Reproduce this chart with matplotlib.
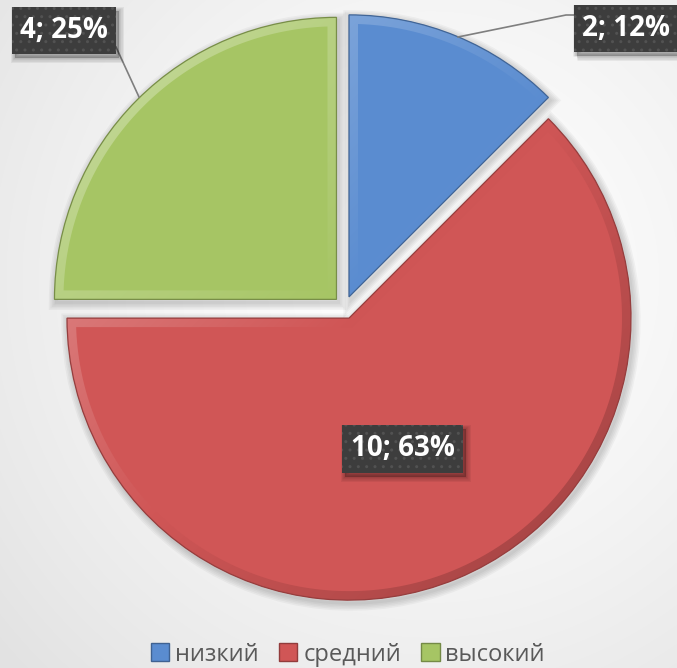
import numpy as np
import matplotlib.pyplot as plt
from matplotlib.patches import Wedge, Polygon, Rectangle, Patch
from matplotlib.colors import to_rgb

plt.rcParams['font.family'] = ['Open Sans', 'DejaVu Sans']
plt.rcParams['hatch.color'] = '#525252'
plt.rcParams['hatch.linewidth'] = 1.0

# Data
categories = ["низкий", "средний", "высокий"]
counts = [2, 10, 4]
percents = [12, 63, 25]
colors = ["#5a8cd0", "#d05656", "#a6c564"]

W, H = 677, 668
fig = plt.figure(figsize=(W / 100, H / 100), dpi=100)
ax = fig.add_axes([0, 0, 1, 1])

# soft radial backdrop
yy, xx = np.mgrid[0:H, 0:W]
dist = np.hypot(xx - 430, yy - (H - 280)) / 560
shade = 1 - 0.11 * np.clip(dist, 0, 1) ** 1.4
ax.imshow(np.dstack([shade] * 3), extent=(0, W, 0, H), origin="lower", zorder=0)

wedges, _ = ax.pie(counts, colors=colors, startangle=90, counterclock=False,
                   radius=282, center=(344.6, H - 307.5), explode=[11.5] * 3,
                   wedgeprops=dict(linewidth=0, zorder=2), frame=True)

bevel = 9
for w, c in zip(wedges, colors):
    base = np.array(to_rgb(c))
    cx, cy = w.center
    r, t1, t2 = w.r, w.theta1, w.theta2

    # drop shadow
    for k in range(1, 6):
        ax.add_patch(Wedge((cx + 2, cy - 3), r, t1, t2, facecolor="none",
                           edgecolor="black", alpha=0.035, linewidth=2.2 * k, zorder=1))

    # rim gradient: light at top-left, dark at bottom-right
    gy, gx = np.mgrid[-1:1:120j, -1:1:120j]
    t = np.clip((gx - gy) / 2, -1, 1)[..., None]
    light = base + (1 - base) * 0.4 * np.clip(-t, 0, 1)
    dark = base * (1 - 0.25 * np.clip(t, 0, 1))
    rim = np.where(t < 0, light, dark)
    im = ax.imshow(rim, extent=(cx - r, cx + r, cy - r, cy + r), origin="lower",
                   interpolation="bilinear", zorder=3)
    im.set_clip_path(w)

    # flat inner face
    half = np.radians((t2 - t1) / 2)
    mid = np.radians((t1 + t2) / 2)
    shift = bevel / np.sin(half)
    apex = (cx + shift * np.cos(mid), cy + shift * np.sin(mid))
    ri = r - bevel
    delta = np.degrees(np.arcsin(bevel / ri))
    ang = np.radians(np.linspace(t1 + delta, t2 - delta, 200))
    pts = [apex] + list(zip(cx + ri * np.cos(ang), cy + ri * np.sin(ang)))
    ax.add_patch(Polygon(pts, closed=True, facecolor=base, edgecolor="none", zorder=4))

    ax.add_patch(Wedge((cx, cy), r, t1, t2, facecolor="none",
                       edgecolor=base * 0.72, linewidth=0.9, zorder=5))

# leader lines
ax.plot([458, 566, 574], [H - 37, H - 15, H - 15], color="#7f7f7f", lw=1.2, zorder=6)
ax.plot([116, 139], [H - 47, H - 97], color="#7f7f7f", lw=1.2, zorder=6)

# data labels
label_pos = [(625.5, H - 28.5), (402.5, H - 449), (64, H - 30.5)]
box_size = [(103, 47), (121, 48), (104, 47)]
for (x, y), (bw, bh), n, p in zip(label_pos, box_size, counts, percents):
    for k in range(1, 5):
        ax.add_patch(Rectangle((x - bw / 2 + 3, y - bh / 2 - 4), bw, bh, facecolor="none",
                               edgecolor="black", alpha=0.06, linewidth=1.6 * k, zorder=6))
    ax.add_patch(Rectangle((x - bw / 2 + 3, y - bh / 2 - 4), bw, bh,
                           facecolor="black", alpha=0.25, linewidth=0, zorder=6))
    ax.add_patch(Rectangle((x - bw / 2, y - bh / 2), bw, bh, facecolor="#3d3d3d",
                           hatch="..", linewidth=0, zorder=7))
    ax.text(x, y, f"{n}; {p}%", color="white", fontsize=20, fontweight="bold",
            ha="center", va="center", zorder=8)

handles = [Patch(facecolor=c, edgecolor=np.array(to_rgb(c)) * 0.7) for c in colors]
leg = ax.legend(handles, categories, loc="lower center", bbox_to_anchor=(0.514, -0.012),
                ncol=3, frameon=False, fontsize=17, handlelength=0.78, handleheight=0.78,
                handletextpad=0.25, columnspacing=0.85, borderaxespad=0)
for txt in leg.get_texts():
    txt.set_color("#595959")

ax.set_xlim(0, W)
ax.set_ylim(0, H)
ax.axis("off")

fig.savefig("out.png", dpi=100)
